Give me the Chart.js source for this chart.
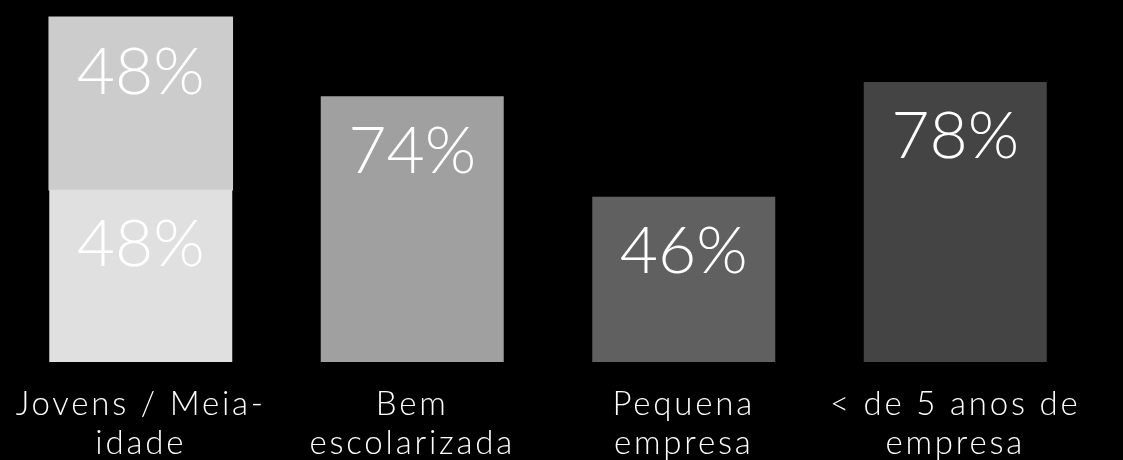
<!DOCTYPE html>
<html>
<head>
<meta charset="utf-8">
<script src="https://cdn.jsdelivr.net/npm/chart.js@4.4.1/dist/chart.umd.min.js"></script>
<style>
  html, body { margin: 0; padding: 0; background: #000; }
  #wrap { width: 1123px; height: 460px; }
</style>
</head>
<body>
<div id="wrap"><canvas id="chart"></canvas></div>
<script>
const categories = [
  ["Jovens / Meia-", "idade"],
  ["Bem", "escolarizada"],
  ["Pequena", "empresa"],
  ["< de 5 anos de", "empresa"]
];
const baseValues = [48, 74, 46, 78];
const topValues = [48, null, null, null];
const baseColors = ["#e0e0e0", "#a0a0a0", "#606060", "#444444"];
const topColor = "#cccccc";

const FONT = "Lato, 'Open Sans', sans-serif";

// wider tracking for the category labels, like the original
const spacing = {
  id: "spacing",
  beforeDraw(chart) { chart.ctx.letterSpacing = "2.8px"; },
  beforeDatasetsDraw(chart) { chart.ctx.letterSpacing = "0px"; }
};

// draws "NN%" inside each bar near its top
const barLabels = {
  id: "barLabels",
  afterDatasetsDraw(chart) {
    const ctx = chart.ctx;
    ctx.save();
    ctx.fillStyle = "#ffffff";
    ctx.font = "300 66px " + FONT;
    ctx.textAlign = "center";
    ctx.textBaseline = "middle";
    chart.data.datasets.forEach((ds, i) => {
      const meta = chart.getDatasetMeta(i);
      meta.data.forEach((bar, j) => {
        const v = ds.data[j];
        if (v == null) return;
        ctx.fillText(v + "%", bar.x, bar.y + 55);
      });
    });
    ctx.restore();
  }
};

new Chart(document.getElementById("chart"), {
  type: "bar",
  data: {
    labels: categories,
    datasets: [
      { data: baseValues, backgroundColor: baseColors, borderWidth: 0 },
      // slight inflate so no seam shows where the two segments meet
      { data: topValues, backgroundColor: topColor, borderWidth: 0, inflateAmount: 0.8 }
    ]
  },
  options: {
    responsive: true,
    maintainAspectRatio: false,
    animation: false,
    layout: { padding: { top: 3, left: 5, right: 32, bottom: 0 } },
    datasets: { bar: { categoryPercentage: 1, barPercentage: 0.674 } },
    plugins: { legend: { display: false }, tooltip: { enabled: false } },
    scales: {
      x: {
        stacked: true,
        grid: { display: false },
        border: { display: false },
        afterFit(scale) { scale.height = 98; },
        ticks: {
          color: "#ffffff",
          padding: 15,
          maxRotation: 0,
          autoSkip: false,
          font: { family: FONT, size: 33, weight: 300, lineHeight: 1.18 }
        }
      },
      y: { stacked: true, display: false, min: 0, max: 100 }
    }
  },
  plugins: [spacing, barLabels]
});
</script>
</body>
</html>
